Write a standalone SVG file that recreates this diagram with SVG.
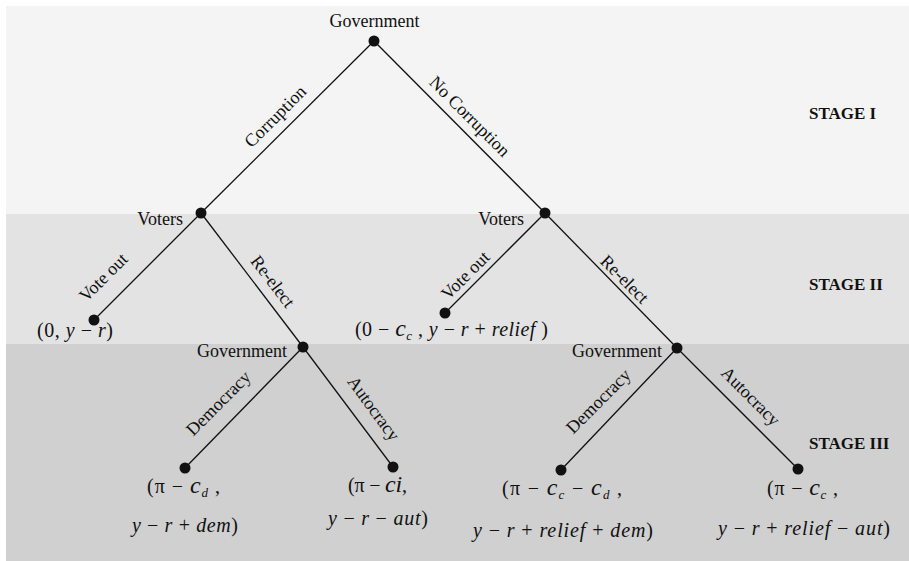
<svg xmlns="http://www.w3.org/2000/svg" width="909" height="561" viewBox="0 0 909 561">
<style>
.lbl{font-family:"Liberation Serif","Times New Roman",serif;font-size:18px;fill:#111}
.node{font-family:"Liberation Serif","Times New Roman",serif;font-size:18px;fill:#111}
.stage{font-family:"Liberation Serif","Times New Roman",serif;font-size:17px;font-weight:bold;fill:#111}
.math{font-family:"Liberation Serif","DejaVu Serif",serif;font-size:20px;fill:#111}
.it{font-style:italic}
.big{font-style:italic;font-size:24px}
.sub{font-style:italic;font-size:13px}
.edge{stroke:#111;stroke-width:1.3;fill:none}
.dot{fill:#111}
</style>
<rect x="0" y="0" width="909" height="561" fill="#ffffff"/>
<g id="bands">
<rect x="6" y="6" width="903" height="208" fill="#f4f4f4"/>
<rect x="6" y="214" width="903" height="130" fill="#e3e3e3"/>
<rect x="6" y="344" width="903" height="217" fill="#cfd0cf"/>
<text class="stage" x="809" y="119">STAGE I</text>
<text class="stage" x="809" y="290">STAGE II</text>
<text class="stage" x="809" y="449">STAGE III</text>
</g>
<g id="connectors">
<line class="edge" x1="374" y1="41" x2="201" y2="213"/>
<line class="edge" x1="374" y1="41" x2="545" y2="213"/>
<line class="edge" x1="201" y1="213" x2="94" y2="320"/>
<line class="edge" x1="201" y1="213" x2="303" y2="347"/>
<line class="edge" x1="545" y1="213" x2="445" y2="313"/>
<line class="edge" x1="545" y1="213" x2="677" y2="348"/>
<line class="edge" x1="303" y1="347" x2="185" y2="468"/>
<line class="edge" x1="303" y1="347" x2="393" y2="467"/>
<line class="edge" x1="677" y1="348" x2="561" y2="470"/>
<line class="edge" x1="677" y1="348" x2="798" y2="469"/>
<g id="edge-labels">
<text class="lbl" transform="translate(276,117) rotate(-45)" x="0" y="5" text-anchor="middle">Corruption</text>
<text class="lbl" transform="translate(469,117) rotate(45)" x="0" y="5" text-anchor="middle">No Corruption</text>
<text class="lbl" transform="translate(104,278) rotate(-45)" x="0" y="5" text-anchor="middle">Vote out</text>
<text class="lbl" transform="translate(272,282) rotate(52.7)" x="0" y="5" text-anchor="middle">Re-elect</text>
<text class="lbl" transform="translate(466,276) rotate(-45)" x="0" y="5" text-anchor="middle">Vote out</text>
<text class="lbl" transform="translate(624,280) rotate(45)" x="0" y="5" text-anchor="middle">Re-elect</text>
<text class="lbl" transform="translate(219,404) rotate(-45)" x="0" y="5" text-anchor="middle">Democracy</text>
<text class="lbl" transform="translate(373,409) rotate(53.7)" x="0" y="5" text-anchor="middle">Autocracy</text>
<text class="lbl" transform="translate(599,402) rotate(-45)" x="0" y="5" text-anchor="middle">Democracy</text>
<text class="lbl" transform="translate(750,397) rotate(45)" x="0" y="5" text-anchor="middle">Autocracy</text>
</g>
</g>
<g id="n-root">
<circle class="dot" cx="374" cy="41" r="5.5"/>
<text class="node" x="374.5" y="27" text-anchor="middle">Government</text>
</g>
<g id="n-voters-left">
<circle class="dot" cx="201" cy="213" r="5.5"/>
<text class="node" x="183" y="225" text-anchor="end">Voters</text>
</g>
<g id="n-voters-right">
<circle class="dot" cx="545" cy="213" r="5.5"/>
<text class="node" x="524" y="225" text-anchor="end">Voters</text>
</g>
<g id="n-voteout-left">
<circle class="dot" cx="94" cy="320" r="5.5"/>
<text class="math" x="75" y="337" text-anchor="middle" textLength="76" lengthAdjust="spacing">(0, <tspan class="it">y</tspan> − <tspan class="it">r</tspan>)</text>
</g>
<g id="n-voteout-right">
<circle class="dot" cx="445" cy="313" r="5.5"/>
<text class="math" x="451.5" y="336" text-anchor="middle" textLength="193" lengthAdjust="spacing">(0 − <tspan class="big">c</tspan><tspan class="sub" dy="4">c</tspan><tspan dy="-4"> , </tspan><tspan class="it">y</tspan> − <tspan class="it">r</tspan> + <tspan class="it">relief</tspan> )</text>
</g>
<g id="n-gov-left">
<circle class="dot" cx="303" cy="347" r="5.5"/>
<text class="node" x="287" y="357" text-anchor="end">Government</text>
</g>
<g id="n-gov-right">
<circle class="dot" cx="677" cy="348" r="5.5"/>
<text class="node" x="662" y="357" text-anchor="end">Government</text>
</g>
<g id="n-dem-left">
<circle class="dot" cx="185" cy="468" r="5.5"/>
<text class="math" x="183.5" y="493" text-anchor="middle" textLength="73" lengthAdjust="spacing">(π − <tspan class="big">c</tspan><tspan class="sub" dy="4">d</tspan><tspan dy="-4"> ,</tspan></text>
<text class="math" x="185" y="532" text-anchor="middle" textLength="106" lengthAdjust="spacing"><tspan class="it">y</tspan> − <tspan class="it">r</tspan> + <tspan class="it">dem</tspan>)</text>
</g>
<g id="n-aut-left">
<circle class="dot" cx="393" cy="467" r="5.5"/>
<text class="math" x="377.5" y="492" text-anchor="middle" textLength="59" lengthAdjust="spacing">(π − <tspan class="big">ci</tspan>,</text>
<text class="math" x="378" y="525" text-anchor="middle" textLength="100" lengthAdjust="spacing"><tspan class="it">y</tspan> − <tspan class="it">r</tspan> − <tspan class="it">aut</tspan>)</text>
</g>
<g id="n-dem-right">
<circle class="dot" cx="561" cy="470" r="5.5"/>
<text class="math" x="562" y="495" text-anchor="middle" textLength="120" lengthAdjust="spacing">(π − <tspan class="big">c</tspan><tspan class="sub" dy="4">c</tspan><tspan dy="-4"> − </tspan><tspan class="big">c</tspan><tspan class="sub" dy="4">d</tspan><tspan dy="-4"> ,</tspan></text>
<text class="math" x="563" y="537" text-anchor="middle" textLength="180" lengthAdjust="spacing"><tspan class="it">y</tspan> − <tspan class="it">r</tspan> + <tspan class="it">relief</tspan> + <tspan class="it">dem</tspan>)</text>
</g>
<g id="n-aut-right">
<circle class="dot" cx="798" cy="469" r="5.5"/>
<text class="math" x="802.5" y="495" text-anchor="middle" textLength="71" lengthAdjust="spacing">(π − <tspan class="big">c</tspan><tspan class="sub" dy="4">c</tspan><tspan dy="-4"> ,</tspan></text>
<text class="math" x="804" y="535" text-anchor="middle" textLength="172" lengthAdjust="spacing"><tspan class="it">y</tspan> − <tspan class="it">r</tspan> + <tspan class="it">relief</tspan> − <tspan class="it">aut</tspan>)</text>
</g>
</svg>
